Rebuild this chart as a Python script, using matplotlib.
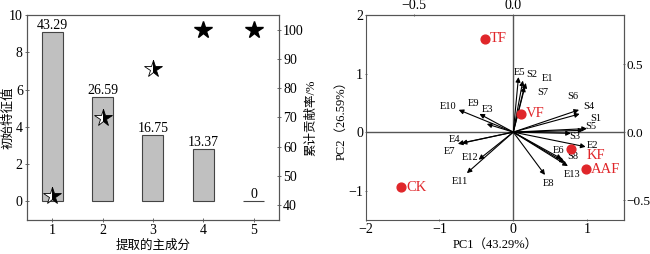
import numpy as np
import matplotlib
matplotlib.use('Agg')
import matplotlib.pyplot as plt

plt.rcParams['font.family'] = ['Liberation Serif', 'Noto Sans CJK SC']
plt.rcParams['axes.unicode_minus'] = True

# 1. datos panel izquierdo
componentes = [1, 2, 3, 4, 5]
valor_propio = [9.1, 5.6, 3.55, 2.8, 0.0]
contribucion = ['43.29', '26.59', '16.75', '13.37', '0']
acumulado = [43.29, 69.88, 86.63, 100.0, 100.0]

# 2. datos panel derecho (biplot)
muestras = ['TF', 'VF', 'KF', 'AAF', 'CK']
pc1 = [-0.385, 0.10, 0.78, 0.985, -1.515]
pc2 = [1.595, 0.31, -0.285, -0.63, -0.945]

variables = ['E5', 'S2', 'E1', 'S7', 'S6', 'S4', 'S1', 'S5', 'S3', 'E2', 'E6', 'S8',
             'E13', 'E8', 'E11', 'E12', 'E4', 'E7', 'E10', 'E9', 'E3']
carga1 = [0.026, 0.048, 0.063, 0.056, 0.330, 0.333, 0.370, 0.352, 0.289, 0.363, 0.244, 0.259,
          0.274, 0.159, -0.233, -0.174, -0.259, -0.278, -0.274, -0.170, -0.133]
carga2 = [0.405, 0.379, 0.362, 0.336, 0.164, 0.134, 0.026, 0.013, -0.009, -0.108, -0.198, -0.224,
          -0.250, -0.315, -0.302, -0.203, -0.082, -0.086, 0.164, 0.134, 0.060]
esc_x, esc_y = 2.7, 2.32

# desplazamiento de etiquetas (en unidades del biplot)
desp = {'E5': (0.01, 0.07), 'S2': (0.12, 0.10), 'E1': (0.30, 0.07), 'S7': (0.25, -0.11),
        'S6': (-0.08, 0.22), 'S4': (0.12, 0.12), 'S1': (0.12, 0.17), 'S5': (0.10, 0.07),
        'S3': (0.05, -0.06), 'E2': (0.09, 0.03), 'E6': (-0.04, 0.15), 'S8': (0.10, 0.10),
        'E13': (0.06, -0.14), 'E8': (0.05, -0.14), 'E11': (-0.10, -0.14), 'E12': (-0.12, 0.03),
        'E4': (-0.09, 0.07), 'E7': (-0.11, -0.13), 'E10': (-0.15, 0.05), 'E9': (-0.08, 0.17),
        'E3': (0.01, 0.24)}
desp_muestra = {'TF': (0.07, 0.0), 'VF': (0.07, 0.0), 'KF': (0.21, -0.11),
                'AAF': (0.07, 0.0), 'CK': (0.07, 0.0)}

gris = '#555555'
rojo = '#e0262a'

fig = plt.figure(figsize=(6.5, 2.54), dpi=100)

# 3. panel izquierdo
ax = fig.add_axes([0.0415, 0.134, 0.3875, 0.807])
ax.bar(componentes, valor_propio, width=0.42, color='#c0c0c0', edgecolor='#444444', linewidth=0.8)
for c, v, t in zip(componentes, valor_propio, contribucion):
    ax.text(c, v, t, ha='center', va='bottom', fontsize=10)
ax.set_xlim(0.5, 5.5)
ax.set_ylim(-1, 10)
ax.set_yticks([0, 2, 4, 6, 8, 10])
ax.set_xticks(componentes)
ax.set_xlabel('提取的主成分', fontsize=9, labelpad=2)
ax.set_ylabel('初始特征值', fontsize=9)
ax.yaxis.set_label_coords(-0.05, 0.5)

ax2 = ax.twinx()
for c, a in zip(componentes, acumulado):
    if a < 100:
        ax2.plot(c, a, marker='*', markersize=13, fillstyle='left', markerfacecolor='white',
                 markerfacecoloralt='black', markeredgecolor='black', markeredgewidth=0.6,
                 linestyle='none')
    else:
        ax2.plot(c, a, marker='*', markersize=13, color='black', linestyle='none')
ax2.set_ylim(35, 105)
ax2.set_yticks([40, 50, 60, 70, 80, 90, 100])
ax2.set_ylabel('累计贡献率/%', fontsize=9)
ax2.yaxis.set_label_coords(1.103, 0.5)

for a in (ax, ax2):
    for s in a.spines.values():
        s.set_color(gris)
    a.tick_params(direction='inout', length=3, width=0.6, color=gris, labelsize=10, pad=1.5)

# 4. panel derecho (biplot)
bx = fig.add_axes([0.5626, 0.134, 0.3974, 0.807])
bx.axhline(0, color=gris, linewidth=1)
bx.axvline(0, color=gris, linewidth=1)
for n, lx, ly in zip(variables, carga1, carga2):
    x, y = lx * esc_x, ly * esc_y
    bx.annotate('', xy=(x, y), xytext=(0, 0),
                arrowprops=dict(arrowstyle='-|>', color='black', lw=0.8,
                                mutation_scale=7, shrinkA=0, shrinkB=0))
    dx, dy = desp[n]
    bx.text(x + dx, y + dy, n, fontsize=7.5, ha='center', va='center')
bx.scatter(pc1, pc2, s=40, color=rojo, zorder=5)
for n, x, y in zip(muestras, pc1, pc2):
    dx, dy = desp_muestra[n]
    bx.text(x + dx, y + dy, n, color=rojo, fontsize=10.5, ha='left', va='center', zorder=6)
bx.set_xlim(-2, 1.5)
bx.set_ylim(-1.5, 2)
bx.set_xticks([-2, -1, 0, 1])
bx.set_yticks([-1, 0, 1, 2])
bx.set_xlabel('PC1（43.29%）', fontsize=9, labelpad=2)
bx.set_ylabel('PC2（26.59%）', fontsize=9)
bx.yaxis.set_label_coords(-0.072, 0.5)

tx = bx.secondary_xaxis('top', functions=(lambda v: v / esc_x, lambda v: v * esc_x))
tx.set_xticks([-0.5, 0])
ty = bx.secondary_yaxis('right', functions=(lambda v: v / esc_y, lambda v: v * esc_y))
ty.set_yticks([-0.5, 0, 0.5])

for a in (bx, tx, ty):
    for s in a.spines.values():
        s.set_color(gris)
    a.tick_params(direction='inout', length=2, width=0.6, color=gris, labelsize=10, pad=1)
ty.tick_params(labelsize=9.5, pad=0.5)

fig.savefig('out.png', dpi=100)
